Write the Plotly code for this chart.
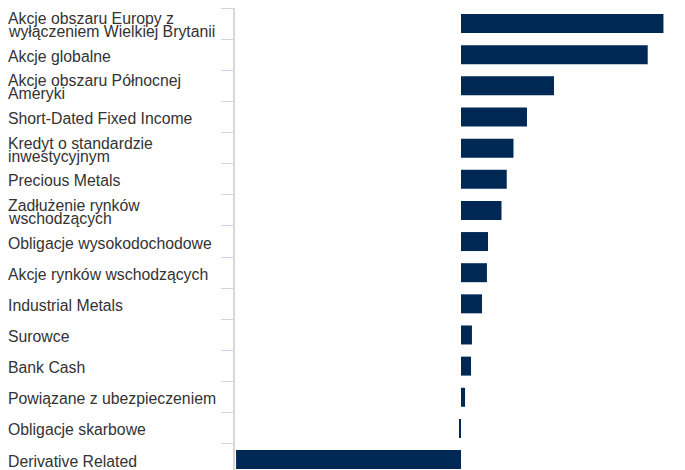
import plotly.graph_objects as go

categories = [
    "Akcje obszaru Europy z<br>wyłączeniem Wielkiej Brytanii",
    "Akcje globalne",
    "Akcje obszaru Północnej<br>Ameryki",
    "Short-Dated Fixed Income",
    "Kredyt o standardzie<br>inwestycyjnym",
    "Precious Metals",
    "Zadłużenie rynków<br>wschodzących",
    "Obligacje wysokodochodowe",
    "Akcje rynków wschodzących",
    "Industrial Metals",
    "Surowce",
    "Bank Cash",
    "Powiązane z ubezpieczeniem",
    "Obligacje skarbowe",
    "Derivative Related",
]
values = [13.5, 12.45, 6.2, 4.4, 3.5, 3.05, 2.7, 1.8, 1.73, 1.4, 0.73, 0.67, 0.27, -0.13, -15.0]

BAR = "#002855"
TEXT = "#333333"
FONT = "Arial, 'Liberation Sans', sans-serif"

fig = go.Figure()
fig.add_trace(go.Bar(
    x=values, y=list(range(len(categories))), orientation="h",
    marker=dict(color=BAR, line=dict(width=0)),
    width=0.61, hoverinfo="skip",
))

annotations = []
for i, lab in enumerate(categories):
    lines = lab.split("<br>")
    if len(lines) == 1:
        shifts = [-1.5]
    else:
        shifts = [5.1, -8.1]
    for ln, sh in zip(lines, shifts):
        annotations.append(dict(
            x=-0.5205, xref="paper", y=i, yref="y", text=ln,
            showarrow=False, xanchor="left", yanchor="middle", align="left",
            yshift=sh, font=dict(family=FONT, size=15.8, color=TEXT),
        ))

fig.update_layout(
    width=677, height=462,
    margin=dict(l=227, r=10, t=0, b=0, pad=0),
    paper_bgcolor="white", plot_bgcolor="white",
    showlegend=False,
    annotations=annotations,
    xaxis=dict(range=[-15.07, 14.27], showgrid=False, zeroline=False,
               showticklabels=False, ticks="", showline=False, fixedrange=True),
    yaxis=dict(range=[14.336, -0.5], showgrid=False, zeroline=False,
               showticklabels=False, ticks="outside", ticklen=12, tickwidth=1,
               tickcolor="#ccd6eb", tickmode="array",
               tickvals=[i - 0.5 for i in range(len(categories) + 1)],
               showline=True, linecolor="#d8d8d8", linewidth=2, fixedrange=True),
)

fig.write_html("out.html", config={"displayModeBar": False})
